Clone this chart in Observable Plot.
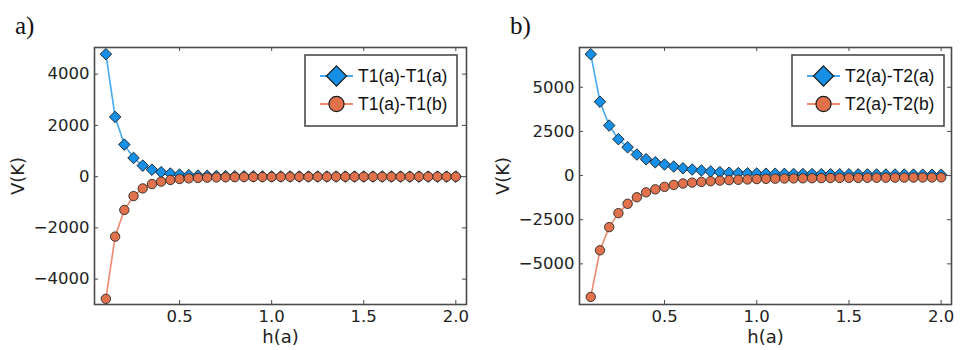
<!DOCTYPE html>
<html><head><meta charset="utf-8">
<script src="https://cdn.jsdelivr.net/npm/d3@7"></script>
<script src="https://cdn.jsdelivr.net/npm/@observablehq/plot@0.6"></script>
<style>
body{margin:0;background:#fff;}
#wrap{position:relative;width:962px;height:350px;overflow:hidden;background:#fff;}
.panel{position:absolute;top:0;}
.tag{position:absolute;font-family:"Liberation Serif",serif;font-size:25px;line-height:25px;color:#111;}
.legend{position:absolute;}
</style></head><body><div id="wrap"></div>
<script>
// ---- data ----
const hValues = [0.10, 0.15, 0.20, 0.25, 0.30, 0.35, 0.40, 0.45, 0.50, 0.55,
                 0.60, 0.65, 0.70, 0.75, 0.80, 0.85, 0.90, 0.95, 1.00, 1.05,
                 1.10, 1.15, 1.20, 1.25, 1.30, 1.35, 1.40, 1.45, 1.50, 1.55,
                 1.60, 1.65, 1.70, 1.75, 1.80, 1.85, 1.90, 1.95, 2.00];
const panelTags = ["a)", "b)"];
const seriesNamesA = ["T1(a)-T1(a)", "T1(a)-T1(b)"];
const seriesNamesB = ["T2(a)-T2(a)", "T2(a)-T2(b)"];
const blueA = [4780, 2330, 1250, 730, 430, 270, 175, 120, 80, 58,
               42, 32, 25, 20, 16, 13, 11, 9, 8, 7,
               6, 5, 5, 4, 4, 3, 3, 3, 2, 2,
               2, 2, 2, 1, 1, 1, 1, 1, 1];
const orangeA = [-4770, -2340, -1300, -760, -460, -290, -195, -130, -92, -66,
                 -50, -38, -30, -24, -19, -15, -12, -10, -8, -7,
                 -6, -5, -5, -4, -4, -3, -3, -3, -2, -2,
                 -2, -2, -2, -1, -1, -1, -1, -1, -1];
const blueB = [6870, 4180, 2830, 2060, 1600, 1190, 925, 755, 625, 510,
               410, 340, 285, 230, 190, 160, 140, 125, 115, 105,
               100, 95, 90, 85, 82, 78, 75, 72, 70, 67,
               65, 62, 60, 58, 55, 53, 50, 48, 45];
const orangeB = [-6870, -4230, -2920, -2130, -1600, -1230, -950, -780, -640, -530,
                 -450, -400, -360, -320, -285, -260, -240, -220, -200, -185,
                 -175, -165, -160, -155, -150, -145, -140, -135, -130, -128,
                 -125, -122, -120, -118, -115, -113, -110, -108, -105];
const xTicks = [0.5, 1.0, 1.5, 2.0];
const yTicksA = [-4000, -2000, 0, 2000, 4000];
const yTicksB = [-5000, -2500, 0, 2500, 5000];
const xLabel = "h(a)";
const yLabel = "V(K)";

// ---- style ----
const blueFill = "#1690e6", blueLine = "#45aaf0";
const orangeFill = "#e0714a", orangeLine = "#ee8a6c";
const frameColor = "#4a4a4a";

const wrap = document.getElementById("wrap");

function makePanel(cfg) {
  const W = 481, H = 350, mt = 47, mb = 46;
  const innerW = W - cfg.ml - cfg.mr, innerH = H - mt - mb;
  const rowsBlue = hValues.map((h, i) => ({h, v: cfg.blue[i]}));
  const rowsOrange = hValues.map((h, i) => ({h, v: cfg.orange[i]}));
  const chart = Plot.plot({
    width: W, height: H,
    marginLeft: cfg.ml, marginRight: cfg.mr, marginTop: mt, marginBottom: mb,
    style: {fontFamily: "DejaVu Sans", fontSize: "16.5px", color: "#222", background: "white", overflow: "visible"},
    x: {domain: cfg.xDomain},
    y: {domain: cfg.yDomain},
    marks: [
      Plot.line(rowsBlue, {x: "h", y: "v", stroke: blueLine, strokeWidth: 1.6}),
      Plot.dot(rowsBlue, {x: "h", y: "v", symbol: "diamond2", r: 5.2, fill: blueFill, stroke: "#1b1b1b", strokeWidth: 0.9}),
      Plot.line(rowsOrange, {x: "h", y: "v", stroke: orangeLine, strokeWidth: 1.6}),
      Plot.dot(rowsOrange, {x: "h", y: "v", symbol: "circle", r: 4.7, fill: orangeFill, stroke: "#2a2a2a", strokeWidth: 0.9}),
      Plot.frame({stroke: frameColor, strokeWidth: 1.6}),
      Plot.tickY(cfg.yTicks, {y: d => d, insetRight: innerW - 4, stroke: frameColor}),
      Plot.tickY(cfg.yTicks, {y: d => d, insetLeft: innerW - 4, stroke: frameColor}),
      Plot.tickX(xTicks, {x: d => d, insetTop: innerH - 4, stroke: frameColor}),
      Plot.tickX(xTicks, {x: d => d, insetBottom: innerH - 4, stroke: frameColor}),
      Plot.axisY({ticks: cfg.yTicks, tickSize: 0, tickPadding: 5, fontSize: 16.5, fill: "#222", tickFormat: d3.format("d"), label: null}),
      Plot.axisX({ticks: xTicks, tickSize: 0, tickPadding: 6, fontSize: 16.5, fill: "#222", tickFormat: d3.format(".1f"), label: null}),
      Plot.text([yLabel], {frameAnchor: "left", dx: -76, rotate: -90, textAnchor: "middle", lineAnchor: "middle", fontSize: 18, fill: "#222"}),
      Plot.text([xLabel], {frameAnchor: "bottom", dy: 33, textAnchor: "middle", lineAnchor: "middle", fontSize: 18, fill: "#222"})
    ]
  });
  chart.classList.add("panel");
  chart.style.left = cfg.left + "px";
  wrap.appendChild(chart);

  const tag = document.createElement("div");
  tag.className = "tag";
  tag.textContent = cfg.tag;
  tag.style.left = cfg.tagX + "px";
  tag.style.top = "13px";
  wrap.appendChild(tag);

  // legend
  const lw = 152, lh = 71;
  const svg = d3.create("svg").attr("class", "legend").attr("width", lw + 2).attr("height", lh + 2)
    .style("left", (cfg.left + cfg.legendX - 1) + "px").style("top", "54px");
  svg.append("rect").attr("x", 1).attr("y", 1).attr("width", lw).attr("height", lh)
    .attr("fill", "white").attr("stroke", frameColor).attr("stroke-width", 1.6);
  const rows = [
    {name: cfg.names[0], line: blueLine, fill: blueFill, sym: d3.symbolDiamond2, size: 260, cy: 22},
    {name: cfg.names[1], line: orangeLine, fill: orangeFill, sym: d3.symbolCircle, size: 180, cy: 50}
  ];
  for (const r of rows) {
    svg.append("line").attr("x1", 16).attr("x2", 49).attr("y1", r.cy).attr("y2", r.cy)
      .attr("stroke", r.line).attr("stroke-width", 2);
    svg.append("path").attr("d", d3.symbol(r.sym, r.size)()).attr("transform", `translate(32.5,${r.cy})`)
      .attr("fill", r.fill).attr("stroke", "#1b1b1b").attr("stroke-width", 1.2);
    svg.append("text").attr("x", 54).attr("y", r.cy).attr("dy", "0.36em")
      .attr("font-family", "Liberation Sans").attr("font-size", 17.5).attr("fill", "#111").text(r.name);
  }
  wrap.appendChild(svg.node());
}

makePanel({left: 0, ml: 94, mr: 15, xDomain: [0.038, 2.058], yDomain: [-4990, 5040],
  yTicks: yTicksA, blue: blueA, orange: orangeA, names: seriesNamesA, tag: panelTags[0], tagX: 15, legendX: 305});
makePanel({left: 481, ml: 98, mr: 11, xDomain: [0.039, 2.056], yDomain: [-7300, 7250],
  yTicks: yTicksB, blue: blueB, orange: orangeB, names: seriesNamesB, tag: panelTags[1], tagX: 510, legendX: 311});
</script></body></html>
